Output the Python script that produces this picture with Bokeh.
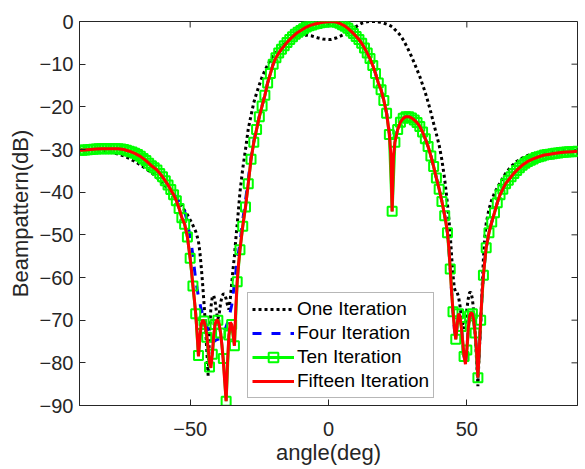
from math import pi
from bokeh.plotting import figure
from bokeh.models import Range1d, FixedTicker, Legend, LegendItem
from bokeh.embed import file_html
from bokeh.resources import INLINE

# ---------------- data ----------------
# shared angle grid (deg) for One / Four / Fifteen iteration curves
angle = [
    -90, -88, -86, -84, -82, -80, -78, -76, -74, -72, -70, -68, -66, -64, -62, -60, -58, -56,
    -55, -54, -53, -52, -51, -50,
    -49.5, -49, -48.5, -48, -47.5, -47, -46.5, -46, -45.5, -45,
    -44.5, -44, -43.5, -43, -42.5, -42, -41.5, -41, -40.5, -40,
    -39.5, -39, -38.5, -38, -37.5, -37, -36.5, -36, -35.5, -35,
    -34.5, -34, -33.5, -33, -32.5, -32,
    -31, -30, -29, -28, -27, -26, -25, -24, -23, -22,
    -21, -20, -19, -18, -17, -16, -15, -14, -13, -12,
    -11, -10, -9, -8, -7, -6, -5, -4, -3, -2,
    -1, 0, 1, 2, 3, 4, 5, 6, 7, 8,
    9, 10, 11, 12, 13, 14, 15, 16, 17, 18,
    19, 20, 21, 22,
    22.5, 23, 23.5,
    24, 25, 26, 27, 28, 29, 30, 31, 32, 33, 34, 35, 36, 37, 38, 39, 40, 41, 42,
    42.5, 43, 43.5, 44, 44.5, 45, 45.5, 46, 46.5, 47,
    47.5, 48, 48.5, 49, 49.5, 50, 50.5, 51, 51.5, 52,
    52.5, 53, 53.5, 54, 54.5, 55, 55.5, 56, 56.5,
    57, 58, 59, 60, 61, 62, 63, 64, 65, 66, 67, 68, 69, 70,
    72, 74, 76, 78, 80, 82, 84, 86, 88, 90,
]

db_one = [
    -30.0, -30.0, -30.0, -30.1, -30.2, -30.4, -30.7, -31.1, -31.5, -32.1, -32.8, -33.6, -34.5, -35.4, -36.6, -37.9, -39.2, -40.7,
    -41.5, -42.4, -43.3, -44.3, -45.3, -46.5,
    -47.1, -47.8, -48.5, -49.2, -50.3, -51.5, -54.0, -57.5, -61.5, -66.0,
    -71.0, -77.0, -83.0, -73.0, -67.0, -64.5, -64.2, -65.5, -68.0, -69.8,
    -68.5, -66.0, -64.5, -63.8, -64.0, -65.0, -66.5, -67.5, -65.0, -61.5,
    -58.0, -55.0, -51.0, -47.5, -43.8, -40.0,
    -34.5, -30.0, -25.2, -22.0, -19.0, -16.8, -14.8, -13.0, -11.5, -10.2,
    -9.0, -8.1, -7.3, -6.6, -5.9, -5.3, -4.8, -4.3, -3.9, -3.6,
    -3.4, -3.3, -3.2, -3.2, -3.3, -3.4, -3.6, -3.8, -3.95, -4.1,
    -4.15, -4.2, -4.2, -4.0, -3.8, -3.5, -3.2, -2.9, -2.5, -2.1,
    -1.6, -1.2, -0.8, -0.4, -0.2, -0.05, 0.0, 0.0, 0.0, -0.1,
    -0.2, -0.4, -0.6, -0.9,
    -1.05, -1.25, -1.5,
    -1.9, -2.5, -3.3, -4.3, -5.5, -6.8, -8.2, -9.7, -11.3, -12.9, -14.8, -16.7, -18.9, -21.3, -23.9, -26.4, -29.0, -32.5, -37.0,
    -39.8, -42.8, -46.2, -50.0, -55.0, -59.5, -62.5, -63.5, -63.5, -64.5,
    -66.5, -69.0, -71.0, -72.0, -70.5, -67.5, -65.0, -63.5, -63.5, -65.0,
    -68.0, -73.0, -79.0, -85.5, -77.0, -71.0, -63.0, -55.5, -50.5,
    -47.3, -44.0, -41.8, -40.2, -39.0, -37.8, -36.7, -35.6, -34.8, -34.0, -33.4, -32.8, -32.4, -32.0,
    -31.4, -31.0, -30.7, -30.5, -30.4, -30.35, -30.3, -30.3, -30.3, -30.3,
]

db_four = [
    -30.2, -30.1, -30.0, -29.9, -29.8, -29.8, -29.8, -29.8, -30.0, -30.4, -30.9, -31.6, -32.6, -33.8, -35.0, -36.6, -38.3, -40.2,
    -41.2, -42.2, -43.0, -44.5, -47.0, -50.5,
    -52.5, -55.0, -57.8, -60.5, -62.6, -64.5, -66.0, -67.5, -68.5, -69.5,
    -70.5, -71.5, -72.5, -73.5, -74.3, -75.0, -75.1, -74.8, -74.6, -74.5,
    -74.3, -74.0, -73.5, -73.0, -72.3, -71.5, -70.6, -69.5, -68.0, -66.5,
    -64.0, -61.5, -58.8, -56.0, -54.0, -52.0,
    -46.5, -42.0, -37.0, -31.8, -28.0, -25.1, -22.2, -19.7, -17.2, -14.4,
    -12.2, -10.0, -8.5, -7.4, -6.5, -5.7, -4.9, -4.2, -3.6, -3.0,
    -2.5, -2.1, -1.7, -1.3, -1.0, -0.8, -0.6, -0.45, -0.3, -0.2,
    -0.1, -0.05, 0.0, -0.05, -0.2, -0.4, -0.75, -1.1, -1.6, -2.2,
    -2.8, -3.5, -4.2, -5.1, -6.2, -7.4, -8.7, -10.3, -12.2, -14.4,
    -16.0, -18.5, -21.5, -26.0,
    -27.8, -28.3, -28.0,
    -27.5, -25.3, -23.6, -22.7, -22.3, -22.3, -22.6, -23.1, -23.7, -24.6, -25.9, -27.5, -29.3, -31.5, -34.0, -36.7, -39.3, -42.2, -45.5,
    -47.3, -49.5, -53.0, -58.0, -63.5, -68.0, -72.0, -74.5, -71.0, -68.5,
    -69.0, -71.5, -75.0, -78.5, -80.3, -77.0, -72.0, -69.0, -68.2, -68.5,
    -70.0, -73.0, -77.0, -83.5, -77.0, -70.0, -64.0, -59.5, -56.0,
    -53.0, -49.5, -47.0, -44.8, -42.5, -40.6, -39.3, -38.0, -37.2, -36.4, -35.6, -34.9, -34.3, -33.7,
    -32.8, -32.2, -31.7, -31.3, -31.1, -30.9, -30.7, -30.6, -30.5, -30.4,
]

db_fifteen = [
    -30.2, -30.1, -30.0, -29.9, -29.8, -29.8, -29.8, -29.8, -30.0, -30.4, -30.9, -31.6, -32.6, -33.8, -34.8, -36.4, -38.3, -40.6,
    -42.0, -43.8, -46.0, -47.5, -50.5, -55.5,
    -58.5, -62.0, -65.0, -68.5, -73.0, -78.5, -74.0, -71.0, -70.0, -70.2,
    -71.5, -73.5, -76.5, -80.0, -81.2, -78.0, -73.5, -71.0, -70.0, -70.0,
    -71.0, -73.0, -76.0, -80.0, -84.5, -89.0, -80.0, -73.5, -70.5, -71.0,
    -73.0, -76.0, -67.0, -61.0, -56.7, -53.5,
    -48.0, -43.5, -38.0, -32.3, -28.3, -25.3, -22.3, -19.8, -17.3, -14.4,
    -12.2, -10.0, -8.5, -7.4, -6.5, -5.7, -4.9, -4.2, -3.6, -3.0,
    -2.5, -2.1, -1.7, -1.3, -1.0, -0.8, -0.6, -0.45, -0.3, -0.2,
    -0.1, -0.05, 0.0, -0.05, -0.2, -0.4, -0.75, -1.1, -1.6, -2.2,
    -2.8, -3.5, -4.2, -5.1, -6.2, -7.4, -8.7, -10.3, -12.2, -14.4,
    -16.0, -18.5, -21.5, -26.5,
    -31.0, -44.5, -31.5,
    -28.3, -25.3, -23.6, -22.7, -22.3, -22.3, -22.6, -23.1, -23.7, -24.6, -25.9, -27.5, -29.3, -31.5, -34.0, -36.7, -39.3, -42.2, -45.5,
    -47.3, -49.5, -53.0, -58.0, -63.5, -68.0, -72.0, -74.5, -71.0, -68.5,
    -69.0, -71.5, -75.0, -78.5, -80.3, -77.0, -72.0, -69.0, -68.2, -68.5,
    -70.0, -73.0, -77.0, -83.5, -77.0, -70.0, -64.0, -59.5, -56.0,
    -53.0, -49.5, -47.0, -44.8, -42.5, -40.6, -39.3, -38.0, -37.2, -36.4, -35.6, -34.9, -34.3, -33.7,
    -32.8, -32.2, -31.7, -31.3, -31.1, -30.9, -30.7, -30.6, -30.5, -30.4,
]

# Ten iteration: sampled every degree (one marker per sample)
angle_ten = list(range(-90, 91))
db_ten = [
    -30.2, -30.15, -30.1, -30.05, -30.0, -29.95, -29.9, -29.85, -29.8, -29.8,
    -29.8, -29.8, -29.8, -29.8, -29.8, -29.9, -30.0, -30.2, -30.4, -30.6,
    -30.9, -31.2, -31.6, -32.1, -32.6, -33.2, -33.8, -34.3, -34.8, -35.6,
    -36.4, -37.3, -38.3, -39.4, -40.6, -42.0, -43.8, -46.0, -47.5, -50.5,
    -55.5, -62.0, -68.5, -78.3, -71.0, -70.2, -74.0, -81.0, -78.0, -71.0,
    -70.0, -73.0, -79.0, -89.0, -73.5, -71.0, -76.0, -61.0, -53.5, -48.0,
    -43.5, -38.0, -32.3, -28.3, -25.3, -22.3, -19.8, -17.3, -14.4, -12.2,
    -10.0, -8.5, -7.4, -6.5, -5.7, -4.9, -4.2, -3.6, -3.0, -2.5,
    -2.1, -1.7, -1.3, -1.0, -0.8, -0.6, -0.45, -0.3, -0.2, -0.1,
    -0.05, 0.0, -0.05, -0.2, -0.4, -0.75, -1.1, -1.6, -2.2, -2.8,
    -3.5, -4.2, -5.1, -6.2, -7.4, -8.7, -10.3, -12.2, -14.4, -16.0,
    -18.5, -21.5, -26.5, -44.5, -28.3, -25.3, -23.6, -22.7, -22.3, -22.3,
    -22.6, -23.1, -23.7, -24.6, -25.9, -27.5, -29.3, -31.5, -34.0, -36.7,
    -39.3, -42.2, -45.5, -49.5, -58.0, -68.0, -74.5, -68.5, -71.5, -78.5,
    -77.0, -69.0, -68.5, -73.0, -83.5, -70.0, -59.5, -53.0, -49.5, -47.0,
    -44.8, -42.5, -40.6, -39.3, -38.0, -37.2, -36.4, -35.6, -34.9, -34.3,
    -33.7, -33.2, -32.8, -32.5, -32.2, -31.9, -31.7, -31.5, -31.3, -31.2,
    -31.1, -31.0, -30.9, -30.8, -30.7, -30.65, -30.6, -30.55, -30.5, -30.45,
    -30.4,
]

series_labels = ["One Iteration", "Four Iteration", "Ten Iteration", "Fifteen Iteration"]
x_ticks = [-50, 0, 50]
y_ticks = [0, -10, -20, -30, -40, -50, -60, -70, -80, -90]

# ---------------- figure ----------------
FONT = "Liberation Sans"
AX = "#262626"

p = figure(width=585, height=469, output_backend="svg", toolbar_location=None,
           x_range=Range1d(-90, 90), y_range=Range1d(-90, 0),
           min_border_left=79, min_border_right=8, min_border_top=21, min_border_bottom=64,
           x_axis_label="angle(deg)", y_axis_label="Beampattern(dB)")
p.outline_line_color = AX
p.outline_line_width = 1
p.grid.visible = False
p.background_fill_color = "white"
p.border_fill_color = "white"


def style_axis(ax, ticks):
    ax.ticker = FixedTicker(ticks=ticks)
    ax.axis_line_color = AX
    ax.axis_line_width = 1
    ax.major_tick_line_color = AX
    ax.major_tick_in = 6
    ax.major_tick_out = 0
    ax.minor_tick_line_color = None
    ax.major_label_text_font = FONT
    ax.major_label_text_color = AX
    ax.major_label_text_font_size = "20px"
    ax.axis_label_text_font = FONT
    ax.axis_label_text_font_size = "22px"
    ax.axis_label_text_font_style = "normal"
    ax.axis_label_text_color = AX


xa = p.xaxis[0]
ya = p.yaxis[0]
style_axis(xa, x_ticks)
style_axis(ya, y_ticks)
xa.major_label_standoff = 16
xa.axis_label_standoff = 1
ya.major_label_standoff = 6
ya.axis_label_standoff = 4

# inward ticks on the top and right edges of the box (clipped to the frame)
top_y = [p.y_range.end] * len(x_ticks)
right_x = [p.x_range.end] * len(y_ticks)
p.scatter(x_ticks, top_y, marker="dash", angle=pi / 2, size=12, line_color=AX, line_width=1)
p.scatter(right_x, y_ticks, marker="dash", size=12, line_color=AX, line_width=1)

r_one = p.line(angle, db_one, line_color="black", line_width=3, line_dash="3 3")
r_four = p.line(angle, db_four, line_color="#0000ff", line_width=3, line_dash="9 10")
r_ten_l = p.line(angle_ten, db_ten, line_color="#00ff00", line_width=3)
r_ten_m = p.scatter(angle_ten, db_ten, marker="square", size=9, line_color="#00ff00",
                    line_width=2, fill_alpha=0)
r_fif = p.line(angle, db_fifteen, line_color="#ff0000", line_width=3)

legend = Legend(items=[
    LegendItem(label=series_labels[0], renderers=[r_one]),
    LegendItem(label=series_labels[1], renderers=[r_four]),
    LegendItem(label=series_labels[2], renderers=[r_ten_l, r_ten_m]),
    LegendItem(label=series_labels[3], renderers=[r_fif]),
], location=(168, 7))
legend.label_text_font = FONT
legend.label_text_font_size = "19px"
legend.label_text_color = "black"
legend.glyph_width = 42
legend.glyph_height = 24
legend.label_height = 24
legend.label_standoff = 3
legend.spacing = 0
legend.padding = 4
legend.margin = 0
legend.border_line_color = "#707070"
legend.border_line_width = 1
legend.background_fill_color = "white"
legend.background_fill_alpha = 1
p.add_layout(legend)

open("out.html", "w").write(file_html(p, INLINE))
